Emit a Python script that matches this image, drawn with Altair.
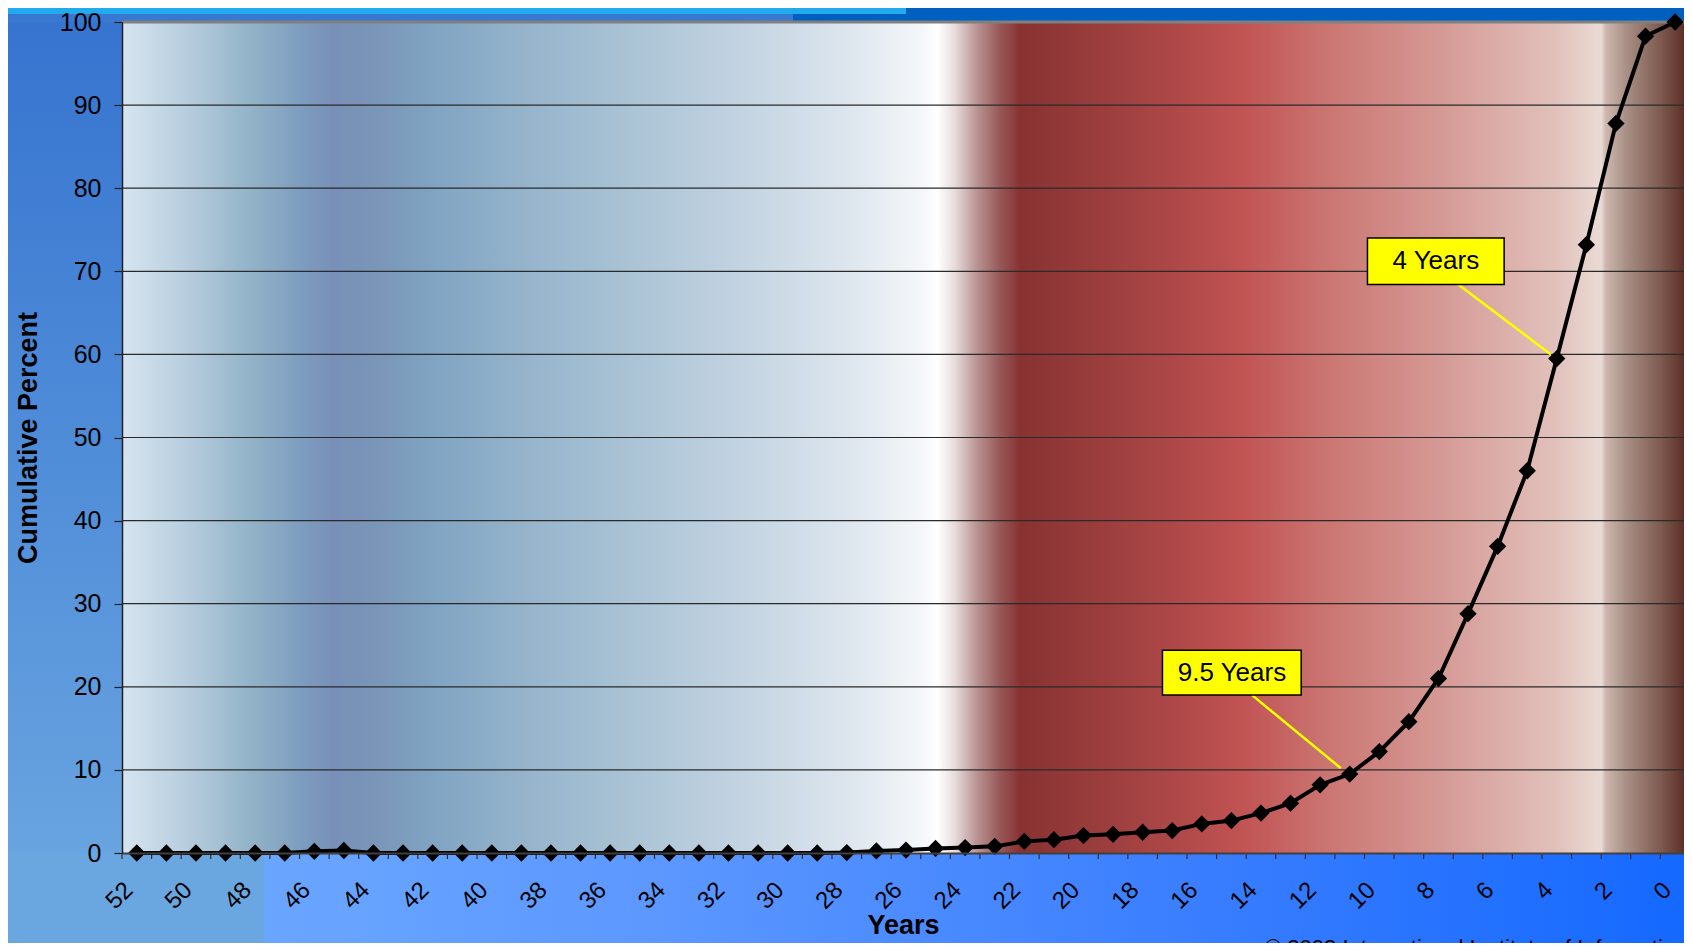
import altair as alt
import pandas as pd

# ---------------- data ----------------
years = list(range(52, -1, -1))
percent = [0, 0, 0, 0, 0, 0, 0.2, 0.3, 0, 0,          # 52..43
           0, 0, 0, 0, 0, 0, 0, 0, 0, 0,               # 42..33
           0, 0, 0, 0, 0.05, 0.25, 0.35, 0.55, 0.65, 0.8,  # 32..23
           1.4, 1.6, 2.1, 2.25, 2.5, 2.7, 3.5, 3.9, 4.8, 6.0,  # 22..13
           8.2, 9.5, 12.2, 15.8, 21.0, 28.8, 36.9, 46.0, 59.5, 73.2,  # 12..3
           87.8, 98.3, 100.0]                          # 2..0
x_label_values = list(range(52, -1, -2))
y_tick_values = list(range(0, 101, 10))
grid_values = list(range(10, 100, 10))
tick_bounds = [y + 0.5 for y in range(52, -1, -1)]

ann_labels = ["4 Years", "9.5 Years"]
ann_box_x0 = [10.4, 17.33]
ann_box_x1 = [5.78, 12.64]
ann_box_y0 = [68.4, 19.0]
ann_box_y1 = [74.0, 24.4]
ann_text_x = [8.09, 14.98]
ann_text_y = [71.2, 21.7]
ann_line_x0 = [7.33, 14.3]
ann_line_y0 = [68.4, 19.0]
ann_line_x1 = [4.2, 11.3]
ann_line_y1 = [60.0, 10.2]

copyright_text = "© 2003 International Institute of Information Design"

df = pd.DataFrame({"year": years, "pct": percent})
ann = pd.DataFrame({"label": ann_labels, "bx0": ann_box_x0, "bx1": ann_box_x1,
                    "by0": ann_box_y0, "by1": ann_box_y1, "tx": ann_text_x, "ty": ann_text_y,
                    "lx0": ann_line_x0, "ly0": ann_line_y0, "lx1": ann_line_x1, "ly1": ann_line_y1})
grid_df = pd.DataFrame({"g": grid_values})
ticks_df = pd.DataFrame({"b": tick_bounds})
one = pd.DataFrame({"k": [0]})

W, H = 1562, 831
FONT = "Liberation Sans"

xscale = alt.Scale(domain=[52.5, -0.3], nice=False, zero=False)
yscale = alt.Scale(domain=[0, 100], nice=False)
xaxis = alt.Axis(values=x_label_values, labelAngle=-45, labelAlign="right", labelBaseline="middle",
                 labelFontSize=24, labelPadding=33, labelOffset=-8, ticks=False, tickSize=0,
                 domainColor="#404040", domainWidth=2, grid=False, zindex=1,
                 labelColor="black", title="Years", titleFontSize=27, titleFontWeight="bold",
                 titleColor="black", titleBaseline="alphabetic", titleY=80, labelFlush=False,
                 labelOverlap=False)
yaxis = alt.Axis(values=y_tick_values, tickSize=8, tickColor="#202020", tickWidth=1.2,
                 labelFontSize=25, labelPadding=13, labelColor="black",
                 domainColor="#202020", domainWidth=1.5, grid=False, zindex=1,
                 title="Cumulative Percent", titleFontSize=27, titleFontWeight="bold",
                 titleColor="black", titleBaseline="alphabetic", titleX=-86)


def X(field):
    return alt.X(field, type="quantitative", scale=xscale, axis=xaxis)


def Y(field):
    return alt.Y(field, type="quantitative", scale=yscale, axis=yaxis)


def box(x0, x1, y0, y1, fill):
    return alt.Chart(one).mark_rect(fill=fill, strokeWidth=0).encode(
        x=alt.value(x0), x2=alt.value(x1), y=alt.value(y0), y2=alt.value(y1))


def lin(stops, vertical=False):
    return alt.LinearGradient(gradient="linear",
                              stops=[alt.GradientStop(offset=o, color=c) for o, c in stops],
                              x1=0, y1=0, x2=0 if vertical else 1, y2=1 if vertical else 0)


plot_stops = [
    (0.000, "#d6e4f0"), (0.040, "#b8cede"), (0.080, "#94b4c9"), (0.115, "#7d9dbf"),
    (0.135, "#7890b8"), (0.165, "#7a96b8"), (0.200, "#80a4c2"), (0.260, "#96b4cc"),
    (0.320, "#a8c2d4"), (0.400, "#c4d4e2"), (0.470, "#dfe7ef"), (0.515, "#f6f8fa"),
    (0.522, "#ffffff"), (0.533, "#e8dcdc"), (0.548, "#b89090"), (0.562, "#985858"),
    (0.575, "#883232"), (0.640, "#a04040"), (0.715, "#c05252"), (0.780, "#cc7a76"),
    (0.850, "#d69c98"), (0.920, "#e2c2bc"), (0.947, "#ebdbd5"), (0.950, "#ccb6ae"),
    (0.965, "#a48a80"), (0.985, "#7e5a50"), (1.000, "#5c3028"),
]

layers = [
    # page background pieces (plot coordinates; plot origin at page (122, 22))
    box(-130, 0, 0, H + 1, lin([(0, "#3674d0"), (1, "#68a4e0")], vertical=True)),
    box(-130, 142, H, H + 110, "#6aa6e0"),
    box(142, W + 10, H, H + 110, lin([(0, "#6aa6ff"), (0.3, "#5a96ff"), (0.65, "#3a7eff"), (1, "#1468ff")])),
    box(-130, 784, -25, -8, "#22aaee"),
    box(-130, 671, -8, 0, "#3878d0"),
    box(671, W + 10, -8, 0, "#0060c0"),
    box(784, W + 10, -25, -8, "#0060c0"),
    # plot background
    box(0, W, 0, H, lin(plot_stops)),
    # grid lines
    alt.Chart(grid_df).mark_rule(color="#2a2a2a", strokeWidth=1.2).encode(y=Y("g")),
    # top border
    alt.Chart(one).mark_rule(color="#808080", strokeWidth=3).encode(
        x=alt.value(0), x2=alt.value(W), y=alt.value(0)),
    # category ticks on the x axis
    alt.Chart(ticks_df).mark_rule(color="#303030", strokeWidth=1.2).encode(
        x=X("b"), y=alt.value(H), y2=alt.value(H + 6)),
    # leader lines
    alt.Chart(ann).mark_rule(color="#ffff00", strokeWidth=2.5).encode(
        x=X("lx0"), x2="lx1", y=Y("ly0"), y2="ly1"),
    # data line + diamonds
    alt.Chart(df).mark_line(color="black", strokeWidth=4).encode(x=X("year"), y=Y("pct")),
    alt.Chart(df).mark_point(shape="diamond", filled=True, size=300, color="black", opacity=1).encode(
        x=X("year"), y=Y("pct")),
    # annotation boxes
    alt.Chart(ann).mark_rect(fill="#ffff00", stroke="black", strokeWidth=1.5).encode(
        x=X("bx0"), x2="bx1", y=Y("by0"), y2="by1"),
    alt.Chart(ann).mark_text(fontSize=26, font=FONT, color="black", align="center", baseline="middle").encode(
        x=X("tx"), y=Y("ty"), text="label:N"),
    # copyright (cut off at the page bottom, as in the original)
    alt.Chart(one).mark_text(text=copyright_text, fontSize=22, font=FONT, color="black",
                             align="left", baseline="top").encode(
        x=alt.value(1143), y=alt.value(H + 85)),
]

chart = alt.layer(*layers).properties(
    width=W, height=H,
    autosize=alt.AutoSizeParams(type="none"),
    padding={"left": 114, "top": 14, "right": 0, "bottom": 90},
    background="#5a96e0",
).configure_view(stroke=None).configure(font=FONT)

chart.save("out.html", embed_options={"renderer": "svg", "actions": False})
